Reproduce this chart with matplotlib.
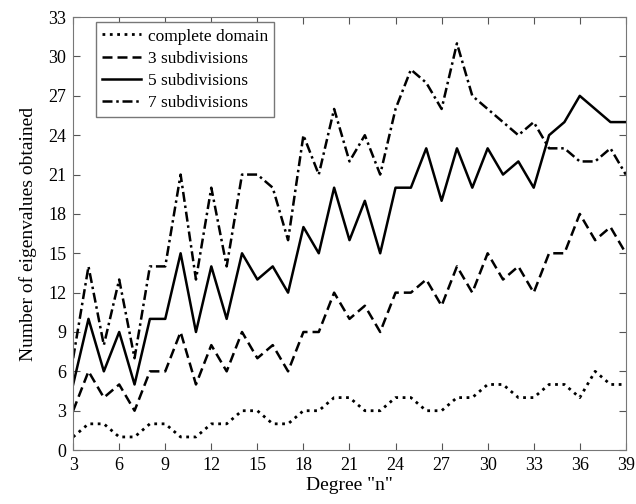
import matplotlib.pyplot as plt

plt.rcParams['font.family'] = ['Liberation Serif', 'DejaVu Serif']

degree = list(range(3, 40))

complete = [1, 2, 2, 1, 1, 2, 2, 1, 1, 2, 2, 3, 3, 2, 2, 3, 3, 4, 4,
            3, 3, 4, 4, 3, 3, 4, 4, 5, 5, 4, 4, 5, 5, 4, 6, 5, 5]
sub3 = [3, 6, 4, 5, 3, 6, 6, 9, 5, 8, 6, 9, 7, 8, 6, 9, 9, 12, 10,
        11, 9, 12, 12, 13, 11, 14, 12, 15, 13, 14, 12, 15, 15, 18, 16, 17, 15]
sub5 = [5, 10, 6, 9, 5, 10, 10, 15, 9, 14, 10, 15, 13, 14, 12, 17, 15, 20, 16,
        19, 15, 20, 20, 23, 19, 23, 20, 23, 21, 22, 20, 24, 25, 27, 26, 25, 25]
sub7 = [7, 14, 8, 13, 7, 14, 14, 21, 13, 20, 14, 21, 21, 20, 16, 24, 21, 26, 22,
        24, 21, 26, 29, 28, 26, 31, 27, 26, 25, 24, 25, 23, 23, 22, 22, 23, 21]

fig = plt.figure(figsize=(6.36, 5.04), dpi=100)
ax = fig.add_axes([0.115, 0.107, 0.869, 0.859])

ax.plot(degree, complete, color='black', linestyle=':', linewidth=2, label='complete domain')
ax.plot(degree, sub3, color='black', linestyle=(0, (4, 2)), linewidth=1.8, label='3 subdivisions')
ax.plot(degree, sub5, color='black', linestyle='-', linewidth=1.8, label='5 subdivisions')
ax.plot(degree, sub7, color='black', linestyle=(0, (4, 1.5, 1, 1.5)), linewidth=1.8, label='7 subdivisions')

ax.set_xlim(3, 39)
ax.set_ylim(0, 33)
ax.set_xticks(range(3, 40, 3))
ax.set_yticks(range(0, 34, 3))
ax.tick_params(direction='in', top=True, right=True, labelsize=13, length=5,
               color='#555555', pad=5)
for s in ax.spines.values():
    s.set_color('#777777')

ax.set_xlabel('Degree "n"', fontsize=14, labelpad=2)
ax.set_ylabel('Number of eigenvalues obtained', fontsize=14, labelpad=8)

leg = ax.legend(loc='upper left', fontsize=12.5, handlelength=2.2, handletextpad=0.4,
                fancybox=False, framealpha=1, borderpad=0.35, labelspacing=0.35,
                borderaxespad=0, bbox_to_anchor=(0.042, 0.988))
leg.get_frame().set_edgecolor('#777777')

fig.savefig('out.png', dpi=100)
